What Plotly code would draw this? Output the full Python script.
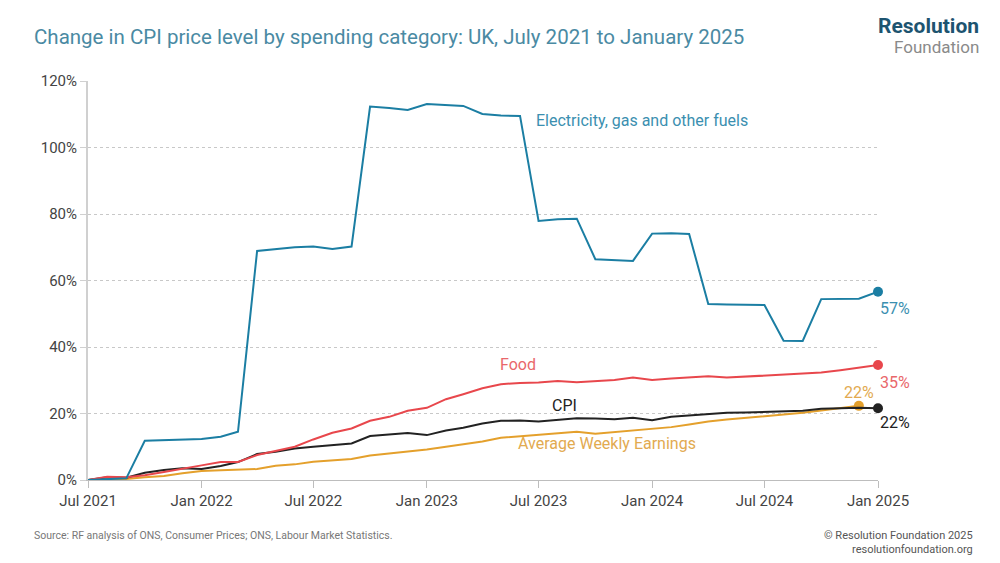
import pandas as pd
import plotly.graph_objects as go

months = pd.date_range("2021-07-01", periods=43, freq="MS")

electricity = [0, 0.3, 0.5, 11.8, 12.0, 12.0, 12.3, 13.0, 14.5, 68.9, 69.5, 70.0, 70.2, 69.5, 70.2,
               112.3, 111.9, 111.3, 113.1, 112.8, 112.5, 110.1, 109.6, 109.5, 77.9, 78.4, 78.6,
               66.4, 66.2, 65.9, 74.1, 74.2, 74.0, 52.9, 52.8, 52.6, 52.6, 41.9, 41.8, 54.4, 54.4,
               54.5, 56.6]
food = [0, 1.0, 0.8, 1.4, 2.4, 3.3, 4.4, 5.4, 5.4, 7.5, 8.8, 10.0, 12.2, 14.2, 15.5, 17.8, 19.0,
        20.8, 21.7, 24.3, 25.8, 27.6, 28.8, 29.2, 29.3, 29.8, 29.4, 29.7, 30.1, 30.8, 30.1, 30.5,
        30.8, 31.2, 30.8, 31.1, 31.2, 31.5, 32.0, 32.3, 33.0, 33.8, 34.6]
cpi = [0, 0.8, 0.7, 2.2, 3.0, 3.5, 3.3, 4.2, 5.4, 7.8, 8.5, 9.5, 10.0, 10.4, 11.0, 13.2, 13.6,
       14.1, 13.5, 14.9, 15.7, 17.0, 17.8, 17.9, 17.6, 18.1, 18.6, 18.5, 18.3, 18.7, 18.0, 19.0,
       19.4, 19.8, 20.2, 20.3, 20.4, 20.6, 20.8, 21.4, 21.6, 21.7, 21.6]
awe = [0, 0.2, 0.3, 0.8, 1.2, 2.0, 2.7, 2.9, 3.0, 3.3, 4.3, 4.7, 5.5, 5.9, 6.3, 7.4, 8.0, 8.5,
       9.2, 10.0, 10.7, 11.6, 12.7, 13.2, 13.7, 14.2, 14.5, 13.9, 14.4, 15.0, 15.5, 15.9, 16.7,
       17.6, 18.2, 18.7, 19.1, 19.5, 20.2, 20.9, 21.6, 22.3]

tick_vals = ["2021-07-01", "2022-01-01", "2022-07-01", "2023-01-01", "2023-07-01",
             "2024-01-01", "2024-07-01", "2025-01-01"]
tick_text = ["Jul 2021", "Jan 2022", "Jul 2022", "Jan 2023", "Jul 2023", "Jan 2024",
             "Jul 2024", "Jan 2025"]
y_ticks = [0, 20, 40, 60, 80, 100, 120]
y_text = ["0%", "20%", "40%", "60%", "80%", "100%", "120%"]

BLUE = "#1b7ea3"
BLUE_T = "#3b8fb0"
RED = "#e8474c"
RED_T = "#e9676b"
BLACK = "#222222"
ORANGE = "#e4a02c"
ORANGE_T = "#e2aa50"
FONT = "Roboto"

# page offset of the figure div (body margin) is 8px
PL, PR, PT, PB = 88, 878, 81, 480   # plot area in page pixels
W, H = 984, 547

fig = go.Figure()
series = [
    (awe, ORANGE, months[:len(awe)]),
    (cpi, BLACK, months),
    (food, RED, months),
    (electricity, BLUE, months),
]
for vals, col, xs in series:
    fig.add_trace(go.Scatter(x=xs, y=vals, mode="lines", line=dict(color=col, width=2),
                             hoverinfo="skip", showlegend=False))
    fig.add_trace(go.Scatter(x=[xs[-1]], y=[vals[-1]], mode="markers", cliponaxis=False,
                             marker=dict(color=col, size=10), hoverinfo="skip", showlegend=False))


def ann(x, y, text, color, size=16, xanchor="left"):
    fig.add_annotation(x=x, y=y, xref="x", yref="y", text=text, showarrow=False,
                       font=dict(family=FONT, size=size, color=color), xanchor=xanchor,
                       yanchor="middle")


ann("2023-06-23", 108.0, "Electricity, gas and other fuels", BLUE_T)
ann("2023-04-26", 34.6, "Food", RED_T)
ann("2023-07-20", 22.3, "CPI", BLACK)
ann("2023-05-26", 11.0, "Average Weekly Earnings", ORANGE_T)
ann(months[-1], 51.5, "57%", BLUE_T)
ann(months[-1], 29.2, "35%", RED_T)
ann(months[-1], 17.2, "22%", BLACK)
ann(months[-2], 26.4, "22%", ORANGE_T, xanchor="center")

fig.update_layout(
    width=W, height=H,
    margin=dict(l=PL - 8, r=W - (PR - 8), t=PT - 8, b=H - (PB - 8)),
    paper_bgcolor="white", plot_bgcolor="white",
    font=dict(family=FONT, color="#555555"),
    xaxis=dict(range=["2021-07-01", "2025-01-01"], tickvals=tick_vals, ticktext=tick_text,
               showgrid=False, zeroline=False, showline=True, linecolor="#bdbdbd", linewidth=1,
               ticks="outside", ticklen=7, tickcolor="#bdbdbd",
               tickfont=dict(family=FONT, size=15, color="#444444")),
    yaxis=dict(range=[0, 120], tickvals=y_ticks, ticktext=y_text, showgrid=True,
               gridcolor="#c8c8c8", griddash="dot", gridwidth=1, zeroline=False,
               showline=True, linecolor="#d0d0d0", linewidth=2,
               ticks="outside", ticklen=6, tickcolor="#d0d0d0",
               tickfont=dict(family=FONT, size=15, color="#444444")),
)


def px_x(px):
    return (px - PL) / (PR - PL)


def px_y(py):
    return (PB - py) / (PB - PT)


def text(px, py, s, size, color, xanchor="left"):
    fig.add_annotation(x=px_x(px), y=px_y(py), xref="paper", yref="paper", text=s,
                       showarrow=False, xanchor=xanchor, yanchor="middle",
                       font=dict(family=FONT, size=size, color=color))


text(32, 37, "Change in CPI price level by spending category: UK, July 2021 to January 2025",
     20.5, "#4a8aa3")
text(981, 26, "<b>Resolution</b>", 21, "#1d5470", "right")
text(981, 47, "Foundation", 17, "#8a8a8a", "right")
text(32, 535, "Source: RF analysis of ONS, Consumer Prices; ONS, Labour Market Statistics.",
     10.5, "#777777")
text(975, 535, "© Resolution Foundation 2025", 11, "#555555", "right")
text(975, 549, "resolutionfoundation.org", 11, "#555555", "right")

fig.write_html("out.html")
